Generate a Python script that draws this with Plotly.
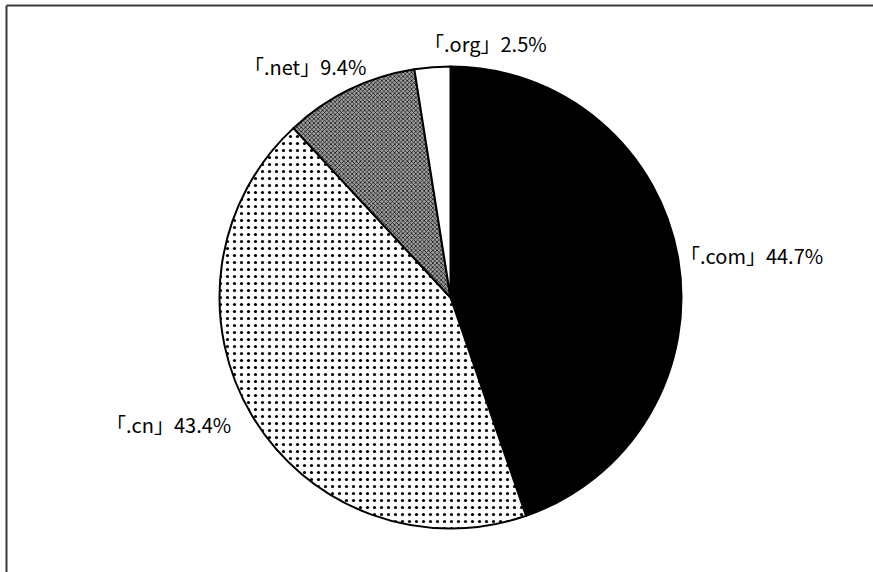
import plotly.graph_objects as go

# Domain share by top-level domain
domains = [".com", ".cn", ".net", ".org"]
shares = [44.7, 43.4, 9.4, 2.5]
label_text = [f"「{d}」{s}%" for d, s in zip(domains, shares)]

W, H = 873, 572
cx, cy, r = 450.5, 297.5, 231.0

fig = go.Figure(
    go.Pie(
        labels=domains,
        values=shares,
        sort=False,
        direction="clockwise",
        rotation=0,
        textinfo="none",
        marker=dict(
            colors=["#000000", "#ffffff", "#808080", "#ffffff"],
            line=dict(color="#000000", width=2),
            pattern=dict(
                shape=["", ".", "x", ""],
                fgcolor=["#000000", "#000000", "#000000", "#000000"],
                bgcolor=["#000000", "#ffffff", "#a0a0a0", "#ffffff"],
                size=[8, 7, 3, 8],
                solidity=[0.3, 0.16, 0.4, 0.3],
            ),
        ),
        showlegend=False,
        hoverinfo="label+percent",
        domain=dict(
            x=[(cx - r) / W, (cx + r) / W],
            y=[(H - cy - r) / H, (H - cy + r) / H],
        ),
    )
)

# Slice labels placed around the pie (pixel positions from the top-left corner)
label_pos = [
    (678, 256, "left"),
    (233, 424, "right"),
    (305, 67, "center"),
    (485, 43, "center"),
]
for txt, (px, py, anchor) in zip(label_text, label_pos):
    fig.add_annotation(
        text=txt,
        xref="paper", yref="paper",
        x=px / W, y=1 - py / H,
        xanchor=anchor, yanchor="middle",
        showarrow=False,
        font=dict(family="Noto Sans CJK JP", size=20, color="#000000"),
    )

# Open frame: top and left edges
frame = dict(color="#3a3a3a", width=2)
fig.add_shape(type="line", xref="paper", yref="paper",
              x0=6.5 / W, x1=1.0, y0=1 - 5.5 / H, y1=1 - 5.5 / H, line=frame)
fig.add_shape(type="line", xref="paper", yref="paper",
              x0=6.5 / W, x1=6.5 / W, y0=0.0, y1=1 - 5.5 / H, line=frame)

fig.update_layout(
    width=W,
    height=H,
    margin=dict(l=0, r=0, t=0, b=0),
    paper_bgcolor="#ffffff",
    plot_bgcolor="#ffffff",
    font=dict(family="Noto Sans CJK JP", color="#000000"),
)

fig.write_html("out.html")
